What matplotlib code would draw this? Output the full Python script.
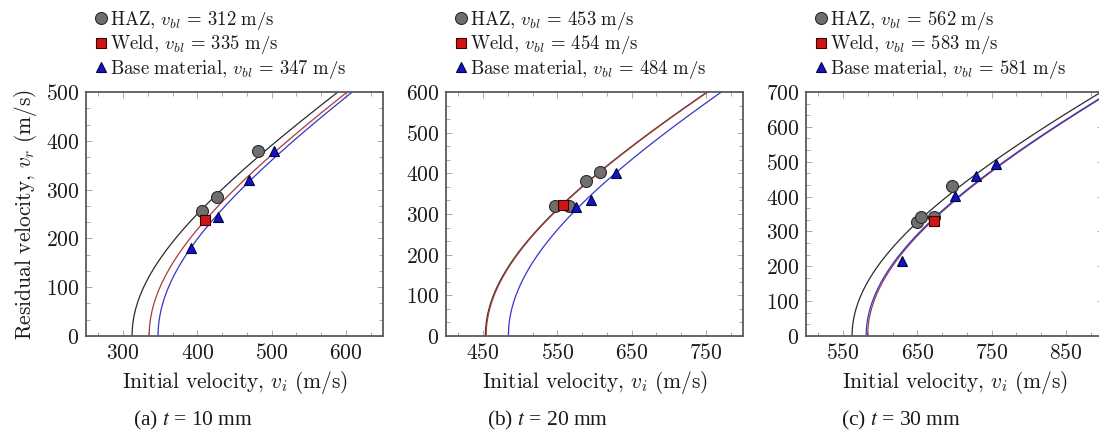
import numpy as np
import matplotlib
matplotlib.use("Agg")
import matplotlib.pyplot as plt
from matplotlib.lines import Line2D
from matplotlib.ticker import MultipleLocator, AutoMinorLocator, FuncFormatter

plt.rcParams["mathtext.fontset"] = "cm"

# ---- data -------------------------------------------------------------
thickness = ["10", "20", "30"]
panel_tags = ["(a)", "(b)", "(c)"]
materials = ["HAZ", "Weld", "Base material"]

# ballistic limit velocities (m/s) per panel, order: HAZ, Weld, Base
v_bl = [[312, 335, 347],
        [453, 454, 484],
        [562, 583, 581]]
# Recht-Ipson parameters per panel and material
ri_a = [[1.0, 1.0, 1.0], [1.0, 1.0, 1.0], [1.0, 1.0, 1.0]]
ri_p = [[2.0, 2.0, 2.0], [2.0, 2.0, 2.0], [2.0, 2.0, 2.0]]

# experiments: initial velocity / residual velocity
haz_vi = [[406, 427, 482], [547, 565, 588, 608], [649, 655, 672, 697]]
haz_vr = [[256, 285, 380], [320, 320, 380, 404], [326, 342, 342, 431]]
weld_vi = [[410], [557], [672]]
weld_vr = [[237], [321], [331]]
base_vi = [[391, 428, 470, 503], [575, 595, 629], [629, 701, 729, 756]]
base_vr = [[181, 243, 320, 380], [318, 335, 402], [216, 401, 460, 493]]

x_limits = [(250, 650), (400, 800), (500, 900)]
y_limits = [(0, 500), (0, 600), (0, 700)]
x_major = [[300, 400, 500, 600], [450, 550, 650, 750], [550, 650, 750, 850]]

# ---- styling ----------------------------------------------------------
line_colors = ["#2b2b2b", "#a83a3a", "#3535c8"]
marker_face = ["#6f6f6f", "#d01515", "#1212c8"]
marker_edge = ["#2a2a2a", "#3a0000", "#00003a"]
markers = ["o", "s", "^"]
msizes = [8.6, 7.6, 7.6]

W, H = 1099, 432
fig = plt.figure(figsize=(W / 100, H / 100), dpi=100)

ax_left_px = [86, 446, 806]
ax_w_px, ax_top_px, ax_bot_px = 297, 92, 336

exp_vi = [haz_vi, weld_vi, base_vi]
exp_vr = [haz_vr, weld_vr, base_vr]

for k in range(3):
    ax = fig.add_axes([ax_left_px[k] / W, (H - ax_bot_px) / H,
                       ax_w_px / W, (ax_bot_px - ax_top_px) / H])
    xmin, xmax = x_limits[k]

    # model curves
    for m in range(3):
        vb = v_bl[k][m]
        vi = np.concatenate([[vb], np.linspace(vb, xmax + 5, 800)[1:]])
        vr = ri_a[k][m] * (vi ** ri_p[k][m] - vb ** ri_p[k][m]) ** (1 / ri_p[k][m])
        ax.plot(vi, vr, color=line_colors[m], lw=0.9, zorder=2)

    # experimental points
    for m in range(3):
        ax.plot(exp_vi[m][k], exp_vr[m][k], linestyle="none",
                marker=markers[m], ms=msizes[m], mfc=marker_face[m],
                mec=marker_edge[m], mew=0.8, zorder=3 + m)

    ax.set_xlim(*x_limits[k])
    ax.set_ylim(*y_limits[k])
    ax.set_xticks(x_major[k])
    ax.yaxis.set_major_locator(MultipleLocator(100))
    ax.xaxis.set_minor_locator(AutoMinorLocator(3))
    ax.yaxis.set_minor_locator(AutoMinorLocator(3))
    fmt = FuncFormatter(lambda v, pos: r"$%d$" % round(v))
    ax.xaxis.set_major_formatter(fmt)
    ax.yaxis.set_major_formatter(fmt)
    ax.tick_params(which="both", direction="in", top=True, right=True,
                   color="#9a9a9a", width=0.6, labelsize=15.5,
                   labelcolor="#1a1a1a")
    ax.tick_params(which="major", length=4.2, pad=5)
    ax.tick_params(which="minor", length=3.2)
    for s in ax.spines.values():
        s.set_color("#5a5a5a")
        s.set_linewidth(1.3)

    ax.set_xlabel(r"$\mathrm{Initial\ velocity,}\,v_i\ \mathrm{(m/s)}$",
                  fontsize=15.5, color="#1a1a1a", labelpad=4)
    if k == 0:
        ax.set_ylabel(r"$\mathrm{Residual\ velocity,}\,v_r\ \mathrm{(m/s)}$",
                      fontsize=15.5, color="#1a1a1a", labelpad=5)

    handles = [Line2D([], [], linestyle="none", marker=markers[m],
                      ms=msizes[m], mfc=marker_face[m],
                      mec=marker_edge[m], mew=0.8) for m in range(3)]
    labels = [r"$\mathrm{%s,}\,v_{bl}\,=\,%d\ \mathrm{m/s}$" % (materials[m].replace(" ", r"\ "), v_bl[k][m])
              for m in range(3)]
    ax.legend(handles, labels, loc="lower left", bbox_to_anchor=(0.0, 1.012),
              frameon=False, fontsize=13.5, handlelength=0.7,
              handletextpad=0.15, labelspacing=0.08, borderpad=0.15,
              borderaxespad=0.3, labelcolor="#1a1a1a")

    cx = [193, 548, 901][k]
    fig.text(cx / W, 1 - 420 / H, "%s $t$ = %s mm" % (panel_tags[k], thickness[k]),
             ha="center", va="center", fontsize=15.5,
             family="Liberation Serif", math_fontfamily="stix",
             color="#1a1a1a")

fig.savefig("out.png", dpi=100)
